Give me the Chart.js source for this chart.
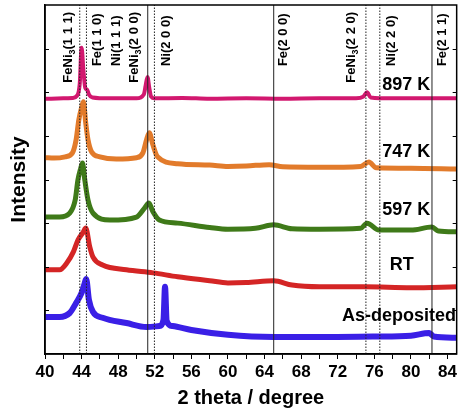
<!DOCTYPE html>
<html>
<head>
<meta charset="utf-8">
<script src="https://cdn.jsdelivr.net/npm/chart.js@4.4.1/dist/chart.umd.min.js"></script>
<style>
  html, body { margin: 0; padding: 0; background: #fff; }
  canvas { display: block; }
</style>
</head>
<body>
<canvas id="xrd" width="460" height="413"></canvas>
<script>
// 2 theta (deg) / stacked intensity
const x897 = [40, 42, 43, 43.5, 43.8, 44.0, 44.2, 44.4, 44.6, 44.8, 45.2, 47, 50, 50.8, 51.0, 51.2, 51.4, 51.6, 52, 55, 58, 62, 66, 70, 74, 74.8, 75.2, 75.6, 78, 82, 85];
const y897 = [5.85, 5.86, 5.87, 5.92, 6.2, 7.02, 6.5, 6.1, 6.06, 5.95, 5.88, 5.86, 5.86, 5.95, 6.15, 6.35, 6.1, 5.9, 5.86, 5.87, 5.85, 5.86, 5.85, 5.86, 5.86, 5.9, 6.0, 5.88, 5.86, 5.86, 5.86];

const x747 = [40, 41, 42.2, 43.0, 43.4, 43.7, 44.0, 44.2, 44.45, 44.7, 45.1, 46.0, 47.8, 50.0, 50.7, 51.1, 51.4, 51.8, 52.3, 54.5, 58, 60, 62, 64.5, 66, 70, 74.5, 75.4, 76.2, 80, 85];
const y747 = [4.50, 4.49, 4.52, 4.61, 4.91, 5.37, 5.65, 5.78, 5.30, 4.91, 4.63, 4.52, 4.47, 4.50, 4.61, 4.91, 5.07, 4.79, 4.52, 4.36, 4.33, 4.30, 4.31, 4.34, 4.29, 4.28, 4.30, 4.40, 4.27, 4.26, 4.24];

const x597 = [40, 41.6, 42.7, 43.3, 43.6, 43.9, 44.1, 44.35, 44.7, 45.25, 47.1, 50.0, 50.9, 51.35, 51.8, 52.5, 54.5, 58, 60, 63, 65, 67, 70, 74.5, 75.2, 76.5, 80, 82.3, 83, 85];
const y597 = [3.14, 3.14, 3.23, 3.53, 3.99, 4.25, 4.38, 3.99, 3.53, 3.23, 3.07, 3.14, 3.35, 3.46, 3.26, 3.07, 3.00, 2.90, 2.86, 2.88, 2.96, 2.87, 2.86, 2.88, 3.00, 2.84, 2.84, 2.91, 2.82, 2.80];

const xRT = [40, 41.6, 42.4, 43.1, 43.6, 44.2, 44.45, 44.9, 45.25, 46.3, 48.9, 51.8, 54.5, 58, 60, 62, 65, 67, 70, 75, 80, 85];
const yRT = [1.93, 1.93, 2.09, 2.34, 2.61, 2.80, 2.89, 2.45, 2.22, 2.04, 1.93, 1.86, 1.77, 1.68, 1.63, 1.64, 1.68, 1.58, 1.54, 1.54, 1.52, 1.54];

const xAsDep = [40, 41.6, 42.7, 43.4, 44.0, 44.35, 44.5, 44.8, 45.25, 46.3, 48.9, 51.1, 52.5, 52.95, 53.12, 53.3, 53.95, 56, 60, 65, 71, 76, 80, 82, 82.5, 85];
const yAsDep = [0.85, 0.85, 0.94, 1.17, 1.40, 1.63, 1.72, 1.24, 0.96, 0.83, 0.71, 0.62, 0.64, 0.78, 1.54, 0.76, 0.64, 0.55, 0.44, 0.39, 0.39, 0.40, 0.42, 0.48, 0.40, 0.37];

const sampleNames = ["897 K", "747 K", "597 K", "RT", "As-deposited"];
const sampleColors = ["#d2186f", "#e27b2b", "#3f7a19", "#d42525", "#3a1fe6"];

// reference peak positions
const refLines = [43.8, 44.53, 51.23, 51.96, 65.0, 75.08, 76.6, 82.3];
const refDotted = [true, true, false, true, false, true, true, false];
const peakNames = ["FeNi_3(1 1 1)", "Fe(1 1 0)", "Ni(1 1 1)", "FeNi_3(2 0 0)", "Ni(2 0 0)", "Fe(2 0 0)", "FeNi_3(2 2 0)", "Ni(2 2 0)", "Fe(2 1 1)"];
const peakLabelX = [42.61, 45.76, 47.83, 49.78, 53.26, 66.09, 73.48, 77.83, 83.48];

const xTicks = [40, 44, 48, 52, 56, 60, 64, 68, 72, 76, 80, 84];

function pts(xs, ys) {
  return xs.map((v, i) => ({ x: v, y: ys[i] }));
}

const seriesX = [x897, x747, x597, xRT, xAsDep];
const seriesY = [y897, y747, y597, yRT, yAsDep];
const bandWidth = [4, 5, 5, 5, 6];

const datasets = [];

refLines.forEach((pos, i) => {
  datasets.push({
    data: [{ x: pos, y: 0 }, { x: pos, y: 8 }],
    borderColor: "#222",
    borderWidth: 1,
    borderDash: refDotted[i] ? [1.5, 1.5] : [],
    pointRadius: 0,
    order: 0,
  });
});

seriesX.forEach((xs, i) => {
  datasets.push({
    label: sampleNames[i],
    data: pts(xs, seriesY[i]),
    borderColor: sampleColors[i],
    borderWidth: bandWidth[i],
    pointRadius: 0,
    cubicInterpolationMode: "monotone",
    order: 1,
  });
});

// label positions (data coords)
const sampleLabelPos = [[79.5, 6.17], [79.5, 4.63], [79.5, 3.30], [79.0, 2.04], [78.7, 0.87]];

const overlay = {
  id: "overlay",
  afterDatasetsDraw(chart) {
    const { ctx, chartArea: a, scales: { x, y } } = chart;
    ctx.save();

    // frame
    ctx.strokeStyle = "#000";
    ctx.lineWidth = 1.5;
    ctx.strokeRect(a.left, a.top, a.right - a.left, a.bottom - a.top);

    // inward ticks on left and right
    ctx.lineWidth = 1;
    for (let v = 1; v < 8; v++) {
      const py = Math.round(y.getPixelForValue(v)) + 0.5;
      ctx.beginPath();
      ctx.moveTo(a.left, py); ctx.lineTo(a.left + 4, py);
      ctx.moveTo(a.right, py); ctx.lineTo(a.right - 4, py);
      ctx.stroke();
    }

    // peak labels, rotated
    ctx.fillStyle = "#000";
    ctx.textBaseline = "middle";
    ctx.textAlign = "left";
    peakNames.forEach((name, i) => {
      const px = x.getPixelForValue(peakLabelX[i]);
      const hasSub = name.includes("_");
      const py = y.getPixelForValue(hasSub ? 6.22 : 6.6);
      ctx.save();
      ctx.translate(px, py);
      ctx.rotate(-Math.PI / 2);
      if (hasSub) {
        const [head, rest] = name.split("_");
        ctx.font = "bold 13px 'Liberation Sans', Arial, sans-serif";
        ctx.fillText(head, 0, 0);
        let w = ctx.measureText(head).width;
        ctx.font = "bold 9px 'Liberation Sans', Arial, sans-serif";
        ctx.fillText(rest[0], w, 4);
        w += ctx.measureText(rest[0]).width;
        ctx.font = "bold 13px 'Liberation Sans', Arial, sans-serif";
        ctx.fillText(rest.slice(1), w, 0);
      } else {
        ctx.font = "bold 13px 'Liberation Sans', Arial, sans-serif";
        ctx.fillText(name, 0, 0);
      }
      ctx.restore();
    });

    // sample labels
    ctx.font = "bold 18px 'Liberation Sans', Arial, sans-serif";
    ctx.textAlign = "center";
    sampleNames.forEach((name, i) => {
      const [lx, ly] = sampleLabelPos[i];
      ctx.fillText(name, x.getPixelForValue(lx), y.getPixelForValue(ly));
    });

    ctx.restore();
  },
};

new Chart(document.getElementById("xrd"), {
  type: "line",
  data: { datasets },
  options: {
    responsive: false,
    animation: false,
    layout: { padding: { left: 3, right: 1, top: 5, bottom: 0 } },
    plugins: { legend: { display: false }, tooltip: { enabled: false } },
    scales: {
      x: {
        type: "linear",
        min: 40,
        max: 85,
        afterFit: (s) => { s.height = 59; },
        ticks: {
          stepSize: 2,
          includeBounds: false,
          autoSkip: false,
          maxRotation: 0,
          padding: 3,
          color: "#000",
          font: { family: "'Liberation Sans', Arial, sans-serif", size: 17, weight: "bold" },
          callback: (v) => (xTicks.includes(v) ? v : ""),
        },
        grid: { drawOnChartArea: false, tickLength: 5, color: "#000" },
        border: { color: "#000", width: 1.5 },
        title: {
          display: true,
          text: "2 theta / degree",
          color: "#000",
          padding: { top: 0, bottom: 3 },
          font: { family: "'Liberation Sans', Arial, sans-serif", size: 20, weight: "bold" },
        },
      },
      y: {
        min: 0,
        max: 8,
        afterFit: (s) => { s.width = 42; },
        ticks: { display: false },
        grid: { display: false },
        border: { color: "#000", width: 1.5 },
        title: {
          display: true,
          text: "Intensity",
          color: "#000",
          padding: { top: 4, bottom: 0 },
          font: { family: "'Liberation Sans', Arial, sans-serif", size: 21, weight: "bold" },
        },
      },
    },
  },
  plugins: [overlay],
});
</script>
</body>
</html>
